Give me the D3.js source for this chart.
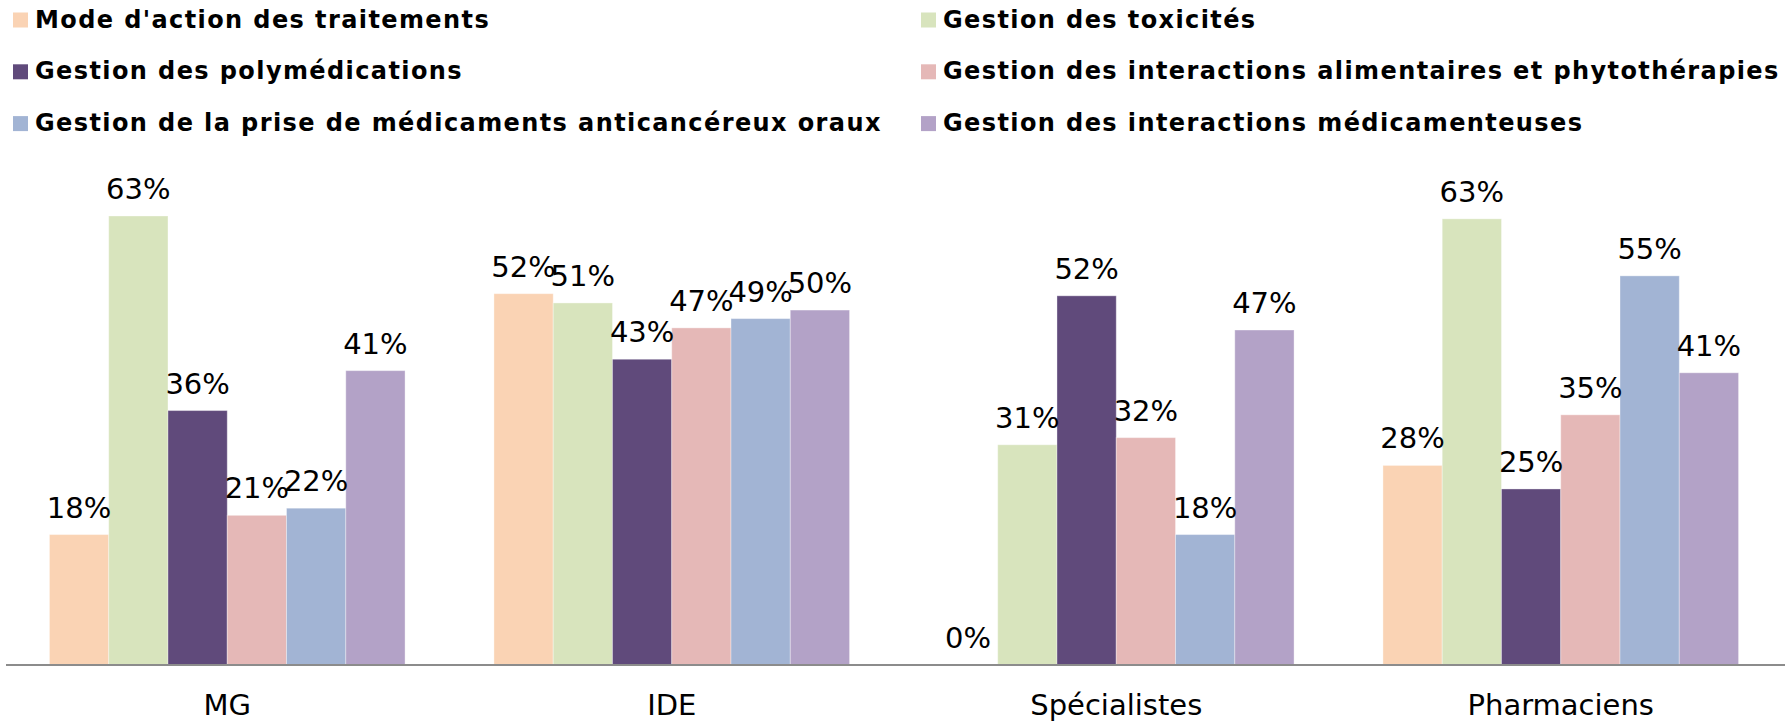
<!DOCTYPE html>
<html>
<head>
<meta charset="utf-8">
<script src="https://cdn.jsdelivr.net/npm/d3@7"></script>
<style>
  html, body { margin: 0; padding: 0; background: #fff; }
  svg { display: block; }
</style>
</head>
<body>
<svg id="chart" width="1792" height="722"></svg>
<script>
const categories = ["MG", "IDE", "Spécialistes", "Pharmaciens"];
const series = [
  "Mode d'action des traitements",
  "Gestion des toxicités",
  "Gestion des polymédications",
  "Gestion des interactions alimentaires et phytothérapies",
  "Gestion de la prise de médicaments anticancéreux oraux",
  "Gestion des interactions médicamenteuses"
];
const colors = ["#FAD3B4", "#D8E4BD", "#604A7B", "#E5B8B7", "#A2B4D4", "#B3A2C7"];
// values (%) per series, in category order
const modeAction      = [18.3, 52.1, 0,    28.0];
const toxicites       = [63.0, 50.8, 30.9, 62.6];
const polymedications = [35.7, 42.9, 51.8, 24.7];
const alimentaires    = [21.0, 47.3, 31.9, 35.1];
const priseOraux      = [22.0, 48.6, 18.3, 54.6];
const medicamenteuses = [41.3, 49.8, 47.0, 41.0];
const seriesValues = [modeAction, toxicites, polymedications, alimentaires, priseOraux, medicamenteuses];

const svg = d3.select("#chart");
const FONT = "Verdana, 'DejaVu Sans', sans-serif";

const x0 = d3.scaleBand().domain(categories).range([5, 1783]).paddingInner(0).paddingOuter(0);
const x1 = d3.scaleBand().domain(d3.range(series.length)).range([0, x0.bandwidth()]).paddingInner(0).paddingOuter(0.75);
const y = d3.scaleLinear().domain([0, 70]).range([665, 166.1]);

const fmt = v => Math.round(v) + "%";

// bars
const groups = svg.append("g").selectAll("g")
  .data(categories)
  .join("g")
  .attr("transform", c => `translate(${x0(c)},0)`);

groups.selectAll("rect")
  .data((c, ci) => seriesValues.map((vals, si) => ({ si, v: vals[ci] })))
  .join("rect")
  .attr("x", d => x1(d.si))
  .attr("width", x1.bandwidth())
  .attr("y", d => y(d.v))
  .attr("height", d => y(0) - y(d.v))
  .attr("fill", d => colors[d.si])
  .attr("stroke", "rgba(255,255,255,0.35)")
  .attr("stroke-width", 1);

groups.selectAll("text")
  .data((c, ci) => seriesValues.map((vals, si) => ({ si, v: vals[ci] })))
  .join("text")
  .attr("x", d => x1(d.si) + x1.bandwidth() / 2)
  .attr("y", d => y(d.v) - 17)
  .attr("text-anchor", "middle")
  .attr("font-family", FONT)
  .attr("font-size", 29)
  .attr("fill", "#000")
  .text(d => fmt(d.v));

// axis
const xAxis = d3.axisBottom(x0).tickSize(0).tickPadding(0);
const ax = svg.append("g").attr("transform", `translate(0,${y(0)})`).call(xAxis);
ax.select(".domain").attr("d", "M6,0H1785").attr("stroke", "#8C8C8C").attr("stroke-width", 2);
ax.selectAll(".tick text")
  .attr("font-family", FONT)
  .attr("font-size", 29)
  .attr("fill", "#000")
  .attr("dy", null)
  .attr("y", 50);

// legend
const legend = svg.append("g").selectAll("g")
  .data(series)
  .join("g")
  .attr("transform", (d, i) => `translate(${i % 2 === 0 ? 13 : 921},${27.5 + Math.floor(i / 2) * 51.8})`);
legend.append("rect")
  .attr("x", 0).attr("y", -15).attr("width", 15).attr("height", 15)
  .attr("fill", (d, i) => colors[i]);
legend.append("text")
  .attr("x", 22).attr("y", 0)
  .attr("font-family", FONT)
  .attr("font-weight", "bold")
  .attr("font-size", 24)
  .attr("letter-spacing", 1.4)
  .attr("fill", "#000")
  .text(d => d);
</script>
</body>
</html>
